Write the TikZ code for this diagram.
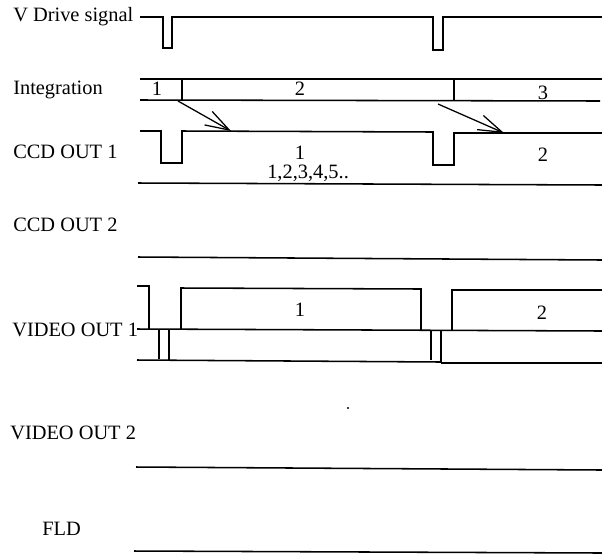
\documentclass[tikz,border=0pt]{standalone}
\usepackage{fontspec}
\setmainfont{Liberation Serif}
\usetikzlibrary{arrows.meta}

\begin{document}
\begin{tikzpicture}[x=0.025cm, y=-0.025cm,
  wave/.style={line width=1.1pt},
  lbl/.style={anchor=west, inner sep=0pt, font=\fontsize{14.5}{17}\selectfont},
  num/.style={inner sep=0pt, font=\fontsize{14.5}{17}\selectfont},
  xfer/.style={line width=0.9pt, -{Straight Barb[length=17pt,width=11pt]}}]
\useasboundingbox (0,0) rectangle (602,554);

% signal names
\node[lbl] (vd) at (13,17) {V Drive signal};
\node[lbl] (integ) at (13,90) {Integration};
\node[lbl] (ccda) at (13,152) {CCD OUT 1};
\node[lbl] (ccdb) at (13,225) {CCD OUT 2};
\node[lbl] (vida) at (12,330) {VIDEO OUT 1};
\node[lbl] (vidb) at (10,433) {VIDEO OUT 2};
\node[lbl] (fld) at (42,529) {FLD};

% V drive
\draw[wave] (140,17) -- (163,17) -- (163,48) -- (172,48) -- (172,17) -- (433,17)
  -- (433,50) -- (443,50) -- (443,17) -- (602,17);

% integration periods
\draw[wave] (140,79) -- (602,79);
\draw[wave] (140,100) -- (600,101);
\draw[wave] (182,79) -- (182,100);
\draw[wave] (454,79) -- (454,101);
\node[num] (ia) at (157,89) {1};
\node[num] (ib) at (300,89) {2};
\node[num] (ic) at (543,93) {3};

% CCD OUT 1
\draw[wave] (140,131) -- (161,131) -- (161,163) -- (182,163) -- (182,131) -- (433,132)
  -- (433,165) -- (454,165) -- (454,133) -- (602,133);
\draw[wave] (138,183) -- (602,185);
\node[num] (ca) at (300,153) {1};
\node[num] (cb) at (543,155) {2};
\node[num, anchor=west] (cn) at (267,173) {1,2,3,4,5..};

% charge transfer
\coordinate (sa) at (178,101);
\coordinate (ta) at (231,131);
\coordinate (sb) at (438,104);
\coordinate (tb) at (504,133);
\draw[xfer] (sa) -- (ta);
\draw[xfer] (sb) -- (tb);

% CCD OUT 2
\draw[wave] (138,257) -- (602,260);

% VIDEO OUT 1
\draw[wave] (137,286) -- (149,286) -- (149,329);
\draw[wave] (137,329) -- (602,331);
\draw[wave] (181,329) -- (181,288) -- (421,289) -- (421,330);
\draw[wave] (452,331) -- (452,290) -- (602,290);
\draw[wave] (159,329) -- (159,359);
\draw[wave] (169,329) -- (169,361);
\draw[wave] (431,331) -- (431,360);
\draw[wave] (441,331) -- (441,362);
\draw[wave] (137,360) -- (441,362);
\draw[wave] (441,363) -- (602,363);
\node[num] (va) at (300,310) {1};
\node[num] (vb) at (542,313) {2};
\fill (348,408) circle (0.8pt);

% VIDEO OUT 2
\draw[wave] (136,467) -- (602,470);

% FLD
\draw[wave] (134,551) -- (602,553);
\end{tikzpicture}
\end{document}
